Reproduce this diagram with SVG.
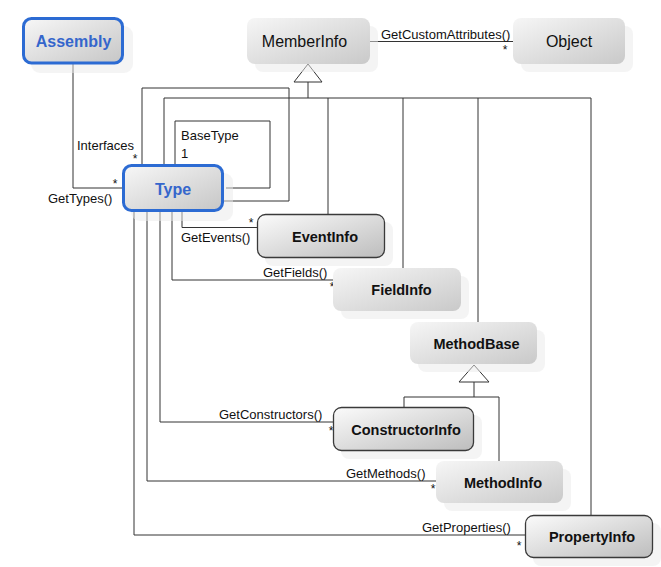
<svg xmlns="http://www.w3.org/2000/svg" width="661" height="567" viewBox="0 0 661 567">
  <defs>
    <linearGradient id="fillPlain" x1="0" y1="0" x2="1" y2="1">
      <stop offset="0" stop-color="#f6f6f6"/>
      <stop offset="1" stop-color="#c9c9c9"/>
    </linearGradient>
    <linearGradient id="fillEdged" x1="0" y1="0" x2="1" y2="1">
      <stop offset="0" stop-color="#fbfbfb"/>
      <stop offset="1" stop-color="#bdbdbd"/>
    </linearGradient>
    <linearGradient id="fillBlue" x1="0" y1="0" x2="1" y2="1">
      <stop offset="0" stop-color="#f7f7f7"/>
      <stop offset="1" stop-color="#c6c6c6"/>
    </linearGradient>
  </defs>
  <style>
    .wire { fill: none; stroke: #333333; stroke-width: 1; }
    .tri { fill: #ffffff; stroke: #333333; stroke-width: 1; }
    .shadow { fill: #e9e9e9; opacity: 0.5; }
    .plain { fill: url(#fillPlain); }
    .edged { fill: url(#fillEdged); stroke: #3a3a3a; stroke-width: 1.3; }
    .blue { fill: url(#fillBlue); stroke: #2c6bd3; stroke-width: 3; }
    .lbl { font-family: "Liberation Sans", Arial, sans-serif; font-size: 13px; fill: #111111; }
    .star { font-family: "Liberation Sans", Arial, sans-serif; font-size: 12px; fill: #111111; text-anchor: middle; }
    .nameR { font-family: "Liberation Sans", Arial, sans-serif; font-size: 16px; fill: #111111; text-anchor: middle; dominant-baseline: central; }
    .nameB { font-family: "Liberation Sans", Arial, sans-serif; font-size: 14.5px; font-weight: bold; fill: #111111; text-anchor: middle; dominant-baseline: central; }
    .nameBlue { font-family: "Liberation Sans", Arial, sans-serif; font-size: 16px; font-weight: bold; fill: #3566cc; text-anchor: middle; dominant-baseline: central; }
  </style>

  <rect width="661" height="567" fill="#ffffff"/>

  <!-- connectors -->
  <g id="connectors">
    <!-- MemberInfo generalization tree -->
    <polygon class="tri" points="308,64 294,82 322,82"/>
    <path class="wire" d="M308,82 V98 M164,164 V98 H591 V515 M328,98 V214 M403,98 V268 M478,98 V322"/>
    <!-- Interfaces -->
    <path class="wire" d="M142,164 V88 H289 V201 H224"/>
    <!-- BaseType self reference -->
    <path class="wire" d="M175,164 V121 H270 V188 H226"/>
    <!-- Assembly.GetTypes -->
    <path class="wire" d="M73,64 V188 H122"/>
    <!-- MemberInfo.GetCustomAttributes -->
    <path class="wire" d="M370,41.5 H513"/>
    <!-- Type members -->
    <path class="wire" d="M182,212 V227.5 H257"/>
    <path class="wire" d="M172,212 V280 H333"/>
    <path class="wire" d="M160,212 V422 H333"/>
    <path class="wire" d="M147,212 V481 H436"/>
    <path class="wire" d="M134,212 V535 H525"/>
    <!-- MethodBase generalization -->
    <polygon class="tri" points="474,365 459,382 489,382"/>
    <path class="wire" d="M474,382 V397 M404,407 V397 H499 V461"/>

    <text class="lbl" x="77" y="150">Interfaces</text>
    <text class="star" x="135" y="163">*</text>
    <text class="lbl" x="181" y="140">BaseType</text>
    <text class="lbl" x="181" y="158">1</text>
    <text class="star" x="115" y="188">*</text>
    <text class="lbl" x="48" y="203">GetTypes()</text>
    <text class="lbl" x="381" y="38.5">GetCustomAttributes()</text>
    <text class="star" x="505" y="54">*</text>
    <text class="star" x="251" y="227">*</text>
    <text class="lbl" x="181" y="242">GetEvents()</text>
    <text class="lbl" x="263" y="277">GetFields()</text>
    <text class="star" x="332" y="291">*</text>
    <text class="lbl" x="219" y="419">GetConstructors()</text>
    <text class="star" x="331" y="435">*</text>
    <text class="lbl" x="346" y="478">GetMethods()</text>
    <text class="star" x="433" y="493">*</text>
    <text class="lbl" x="422" y="532">GetProperties()</text>
    <text class="star" x="519" y="550">*</text>
  </g>

  <g id="Assembly">
    <rect class="shadow" x="31" y="26" width="102" height="47" rx="9"/>
    <rect class="blue" x="23.5" y="18.5" width="99" height="44.5" rx="8"/>
    <text class="nameBlue" x="73.5" y="41.5">Assembly</text>
  </g>

  <g id="MemberInfo">
    <rect class="shadow" x="255" y="26" width="123" height="46" rx="8"/>
    <rect class="plain" x="247" y="18" width="123" height="46" rx="8"/>
    <text class="nameR" x="304.5" y="41.5">MemberInfo</text>
  </g>

  <g id="Object">
    <rect class="shadow" x="521" y="26" width="112" height="46" rx="8"/>
    <rect class="plain" x="513" y="18" width="112" height="46" rx="8"/>
    <text class="nameR" x="569" y="41.5">Object</text>
  </g>

  <g id="Type">
    <rect class="shadow" x="131" y="173" width="102" height="48" rx="9"/>
    <rect class="blue" x="123.5" y="165.5" width="99" height="45" rx="8"/>
    <text class="nameBlue" x="173" y="189">Type</text>
  </g>

  <g id="EventInfo">
    <rect class="shadow" x="265" y="222" width="128" height="44" rx="8"/>
    <rect class="edged" x="257.5" y="214.5" width="127" height="43" rx="8"/>
    <text class="nameB" x="325" y="236.5">EventInfo</text>
  </g>

  <g id="FieldInfo">
    <rect class="shadow" x="341" y="276" width="128" height="43" rx="8"/>
    <rect class="plain" x="333" y="268" width="128" height="43" rx="8"/>
    <text class="nameB" x="401.5" y="290">FieldInfo</text>
  </g>

  <g id="MethodBase">
    <rect class="shadow" x="418" y="330" width="127" height="42" rx="8"/>
    <rect class="plain" x="410" y="322" width="127" height="42" rx="8"/>
    <text class="nameB" x="476.5" y="343.5">MethodBase</text>
  </g>

  <g id="ConstructorInfo">
    <rect class="shadow" x="341" y="415" width="141" height="44" rx="8"/>
    <rect class="edged" x="333.5" y="407.5" width="140" height="43" rx="8"/>
    <text class="nameB" x="406" y="429.5">ConstructorInfo</text>
  </g>

  <g id="MethodInfo">
    <rect class="shadow" x="444" y="469" width="127" height="42" rx="8"/>
    <rect class="plain" x="436" y="461" width="127" height="42" rx="8"/>
    <text class="nameB" x="503" y="482.5">MethodInfo</text>
  </g>

  <g id="PropertyInfo">
    <rect class="shadow" x="533" y="523" width="128" height="43" rx="8"/>
    <rect class="edged" x="525.5" y="515.5" width="127" height="42" rx="8"/>
    <text class="nameB" x="592" y="537">PropertyInfo</text>
  </g>
</svg>
